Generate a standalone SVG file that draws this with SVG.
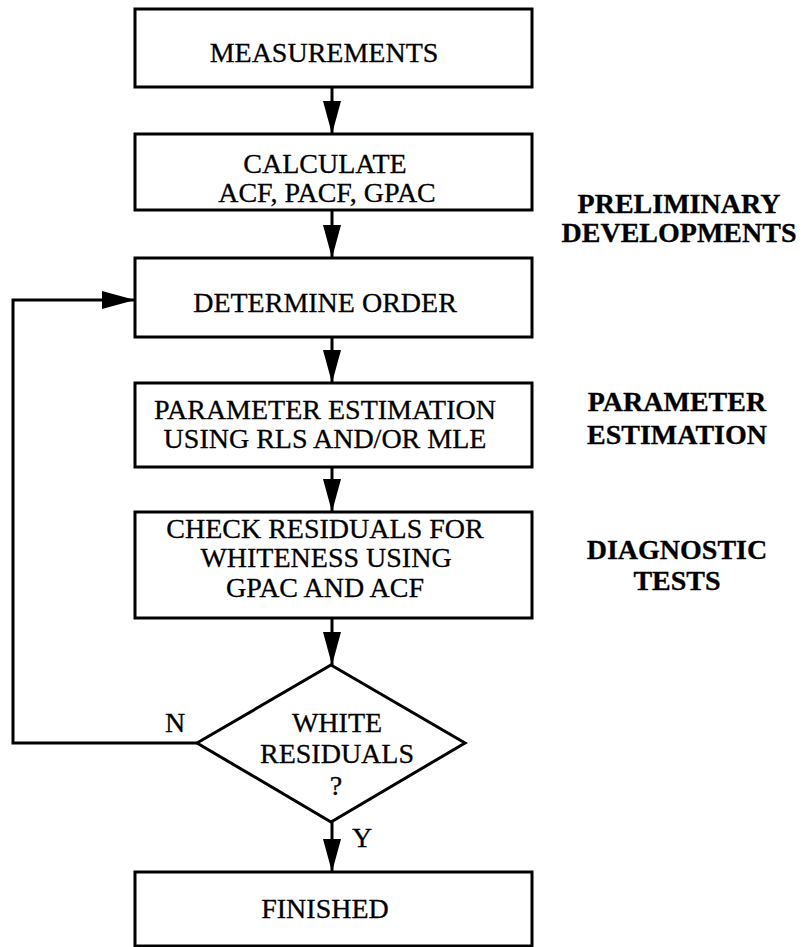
<svg xmlns="http://www.w3.org/2000/svg" width="803" height="947" viewBox="0 0 803 947">
<style>
.box{fill:#fff;stroke:#000;stroke-width:3}
.t{font-family:"Liberation Serif","DejaVu Serif","Noto Serif","Times New Roman",Times,serif;font-size:28px;fill:#000;text-anchor:middle;stroke:#000;stroke-width:0.3}
.b{font-weight:bold}
.c{fill:none;stroke:#000;stroke-width:3}
</style>
<defs>
<marker id="ah" markerUnits="userSpaceOnUse" markerWidth="34" markerHeight="20" refX="33" refY="10" orient="auto">
<path d="M0,1 L33,10 L0,19 Z" fill="#000"/>
</marker>
</defs>
<rect width="803" height="947" fill="#fff"/>
<g id="connectors">
<line class="c" x1="332" y1="87" x2="332" y2="134" marker-end="url(#ah)"/>
<line class="c" x1="332" y1="210" x2="332" y2="258" marker-end="url(#ah)"/>
<line class="c" x1="332" y1="337" x2="332" y2="383" marker-end="url(#ah)"/>
<line class="c" x1="332" y1="467" x2="332" y2="512" marker-end="url(#ah)"/>
<line class="c" x1="332" y1="618" x2="332" y2="665" marker-end="url(#ah)"/>
<line class="c" x1="332" y1="822" x2="332" y2="872" marker-end="url(#ah)"/>
<polyline class="c" points="197,743 13,743 13,300 135,300" marker-end="url(#ah)"/>
<text class="t" font-family="Liberation Serif, serif" x="175" y="732">N</text>
<text class="t" font-family="Liberation Serif, serif" x="362" y="847">Y</text>
</g>
<g id="measurements" font-family="Liberation Serif, serif">
<rect class="box" x="135" y="9" width="397" height="78"/>
<text class="t" x="324" y="62">MEASUREMENTS</text>
</g>
<g id="calculate" font-family="Liberation Serif, serif">
<rect class="box" x="135" y="134" width="397" height="76"/>
<text class="t" x="325" y="173">CALCULATE</text>
<text class="t" x="327" y="202">ACF, PACF, GPAC</text>
</g>
<g id="determine" font-family="Liberation Serif, serif">
<rect class="box" x="135" y="258" width="397" height="79"/>
<text class="t" x="325" y="312">DETERMINE ORDER</text>
</g>
<g id="param" font-family="Liberation Serif, serif">
<rect class="box" x="135" y="383" width="397" height="84"/>
<text class="t" x="325" y="419">PARAMETER ESTIMATION</text>
<text class="t" x="325" y="448">USING RLS AND/OR MLE</text>
</g>
<g id="check" font-family="Liberation Serif, serif">
<rect class="box" x="135" y="512" width="397" height="106"/>
<text class="t" x="325" y="538">CHECK RESIDUALS FOR</text>
<text class="t" x="326" y="567">WHITENESS USING</text>
<text class="t" x="325" y="597">GPAC AND ACF</text>
</g>
<g id="decision" font-family="Liberation Serif, serif">
<polygon class="box" points="331,665 465,743 331,822 197,743"/>
<text class="t" x="337" y="732">WHITE</text>
<text class="t" x="337" y="763">RESIDUALS</text>
<text class="t" x="336" y="795">?</text>
</g>
<g id="finished" font-family="Liberation Serif, serif">
<rect class="box" x="135" y="872" width="397" height="74"/>
<text class="t" x="325" y="918">FINISHED</text>
</g>
<g id="labels" font-family="Liberation Serif, serif">
<text class="t b" x="679" y="213">PRELIMINARY</text>
<text class="t b" x="679" y="242">DEVELOPMENTS</text>
<text class="t b" x="677" y="411">PARAMETER</text>
<text class="t b" x="677" y="444">ESTIMATION</text>
<text class="t b" x="677" y="559">DIAGNOSTIC</text>
<text class="t b" x="677" y="590">TESTS</text>
</g>
</svg>
